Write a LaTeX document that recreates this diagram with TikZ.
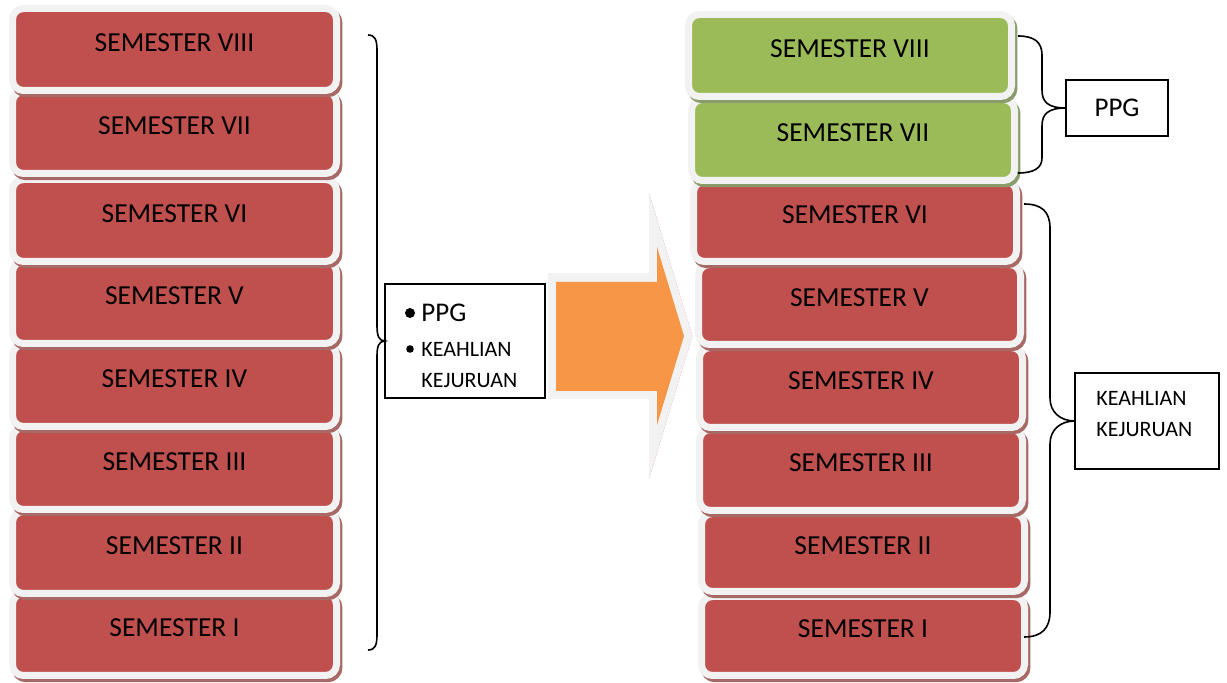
\documentclass[tikz,border=0pt]{standalone}
\usepackage{fontspec}
\setmainfont{Carlito}
\usetikzlibrary{shadows}

\definecolor{semred}{HTML}{C0504D}
\definecolor{semgreen}{HTML}{9BBB59}
\definecolor{arroworange}{HTML}{F79646}
\definecolor{rim}{HTML}{F2F2F2}
\definecolor{redshade}{HTML}{A86866}
\definecolor{greenshade}{HTML}{8A9C6A}
\definecolor{orangeshade}{HTML}{C99070}

\tikzset{
  semester/.style={rectangle, rounded corners=5.5pt, draw=rim, line width=3.5pt,
    inner sep=0pt, outer sep=0pt},
  redsem/.style={semester, fill=semred,
    general shadow={fill=redshade, draw=redshade, line width=3.5pt,
      shadow xshift=1.2pt, shadow yshift=-1.6pt}},
  greensem/.style={semester, fill=semgreen,
    general shadow={fill=greenshade, draw=greenshade, line width=3.5pt,
      shadow xshift=1.2pt, shadow yshift=-1.6pt}},
  semlabel/.style={inner sep=0pt, yshift=3.6pt, font=\fontsize{13.75}{16}\selectfont},
  infobox/.style={rectangle, draw=black, line width=0.9pt, inner sep=0pt, outer sep=0pt},
  bigtext/.style={inner sep=0pt, font=\fontsize{13.5}{16}\selectfont},
  smalltext/.style={inner sep=0pt, anchor=west, font=\fontsize{11}{13}\selectfont},
  dot/.style={circle, fill=black, inner sep=0pt},
  brace/.style={draw=black, line width=0.8pt},
}

% #1 style, #2 name, #3-#6 corners of the coloured face, #7 text
\newcommand\sembox[7]{%
  \node[#1, minimum width={(#5-#3+7)*0.5pt}, minimum height={(#6-#4+7)*0.5pt},
        label={[semlabel]center:#7}] (#2) at ({(#3+#5)/2},{(#4+#6)/2}) {};%
}

\begin{document}
\begin{tikzpicture}[x=0.5pt, y=-0.5pt]
\useasboundingbox (0,0) rectangle (1227,683);

% left column: eight semesters
\sembox{redsem}{l1}{16}{597}{333}{672}{SEMESTER I}
\sembox{redsem}{l2}{16}{515}{333}{590}{SEMESTER II}
\sembox{redsem}{l3}{16}{431}{333}{506}{SEMESTER III}
\sembox{redsem}{l4}{16}{348}{333}{423}{SEMESTER IV}
\sembox{redsem}{l5}{16}{265}{333}{340}{SEMESTER V}
\sembox{redsem}{l6}{16}{183}{333}{258}{SEMESTER VI}
\sembox{redsem}{l7}{16}{95}{333}{170}{SEMESTER VII}
\sembox{redsem}{l8}{16}{12}{333}{87}{SEMESTER VIII}

% left summary box
\node[infobox, minimum width=80pt, minimum height=57pt] (lbox) at (465,341) {};
\node[dot, minimum size=5pt] (b1) at (410,313) {};
\node[dot, minimum size=3.8pt] (b2) at (410,349) {};
\node[bigtext, anchor=west] (t1) at (421,313) {PPG};
\node[smalltext] (t2) at (421,349) {KEAHLIAN};
\node[smalltext] (t3) at (421,381) {KEJURUAN};

% left brace
\coordinate (lbt) at (368,35);
\coordinate (lbb) at (368,650);
\draw[brace] (lbt) .. controls (375,35) and (377,40) .. (377,50) -- (377,326)
  .. controls (377,336) and (379,341) .. (lbox.west)
  .. controls (379,341) and (377,346) .. (377,356) -- (377,635)
  .. controls (377,645) and (375,650) .. (lbb);

% block arrow
\coordinate (a1) at (556,282);
\coordinate (a2) at (657,282);
\coordinate (a3) at (657,247);
\coordinate (a4) at (684,336);
\coordinate (a5) at (657,425);
\coordinate (a6) at (657,391);
\coordinate (a7) at (556,391);
\begin{scope}[shift={(2,3)}]
  \draw[orangeshade, line width=8pt, line join=miter, miter limit=10]
    (a1) -- (a2) -- (a3) -- (a4) -- (a5) -- (a6) -- (a7) -- cycle;
\end{scope}
\draw[rim, line width=8pt, line join=miter, miter limit=10]
  (a1) -- (a2) -- (a3) -- (a4) -- (a5) -- (a6) -- (a7) -- cycle;
\fill[arroworange] (a1) -- (a2) -- (a3) -- (a4) -- (a5) -- (a6) -- (a7) -- cycle;

% right column: six semesters of skills, two of PPG
\sembox{redsem}{r1}{705}{600}{1021}{672}{SEMESTER I}
\sembox{redsem}{r2}{705}{517}{1021}{588}{SEMESTER II}
\sembox{redsem}{r3}{703}{433}{1019}{507}{SEMESTER III}
\sembox{redsem}{r4}{703}{351}{1019}{424}{SEMESTER IV}
\sembox{redsem}{r5}{702}{268}{1017}{341}{SEMESTER V}
\sembox{redsem}{r6}{697}{185}{1013}{258}{SEMESTER VI}
\sembox{greensem}{r7}{695}{103}{1011}{177}{SEMESTER VII}
\sembox{greensem}{r8}{692}{18}{1008}{93}{SEMESTER VIII}

% PPG label and brace
\node[infobox, minimum width=51pt, minimum height=28pt] (rppg) at (1117,108) {};
\node[bigtext] (t4) at (rppg.center) {PPG};
\coordinate (pbt) at (1018,36);
\coordinate (pbb) at (1018,173);
\draw[brace] (pbt) .. controls (1034,36) and (1042,42) .. (1042,55) -- (1042,90)
  .. controls (1042,102) and (1048,108) .. (rppg.west)
  .. controls (1048,108) and (1042,114) .. (1042,126) -- (1042,158)
  .. controls (1042,168) and (1034,173) .. (pbb);

% KEAHLIAN KEJURUAN label and brace
\node[infobox, minimum width=72pt, minimum height=48pt] (rkk) at (1147,421) {};
\node[smalltext] (t5) at (1096,398) {KEAHLIAN};
\node[smalltext] (t6) at (1096,430) {KEJURUAN};
\coordinate (kbt) at (1024,204);
\coordinate (kbb) at (1024,637);
\draw[brace] (kbt) .. controls (1042,204) and (1050,212) .. (1050,228) -- (1050,398)
  .. controls (1050,412) and (1060,421) .. (rkk.west)
  .. controls (1060,421) and (1050,430) .. (1050,444) -- (1050,612)
  .. controls (1050,628) and (1042,637) .. (kbb);
\end{tikzpicture}
\end{document}
